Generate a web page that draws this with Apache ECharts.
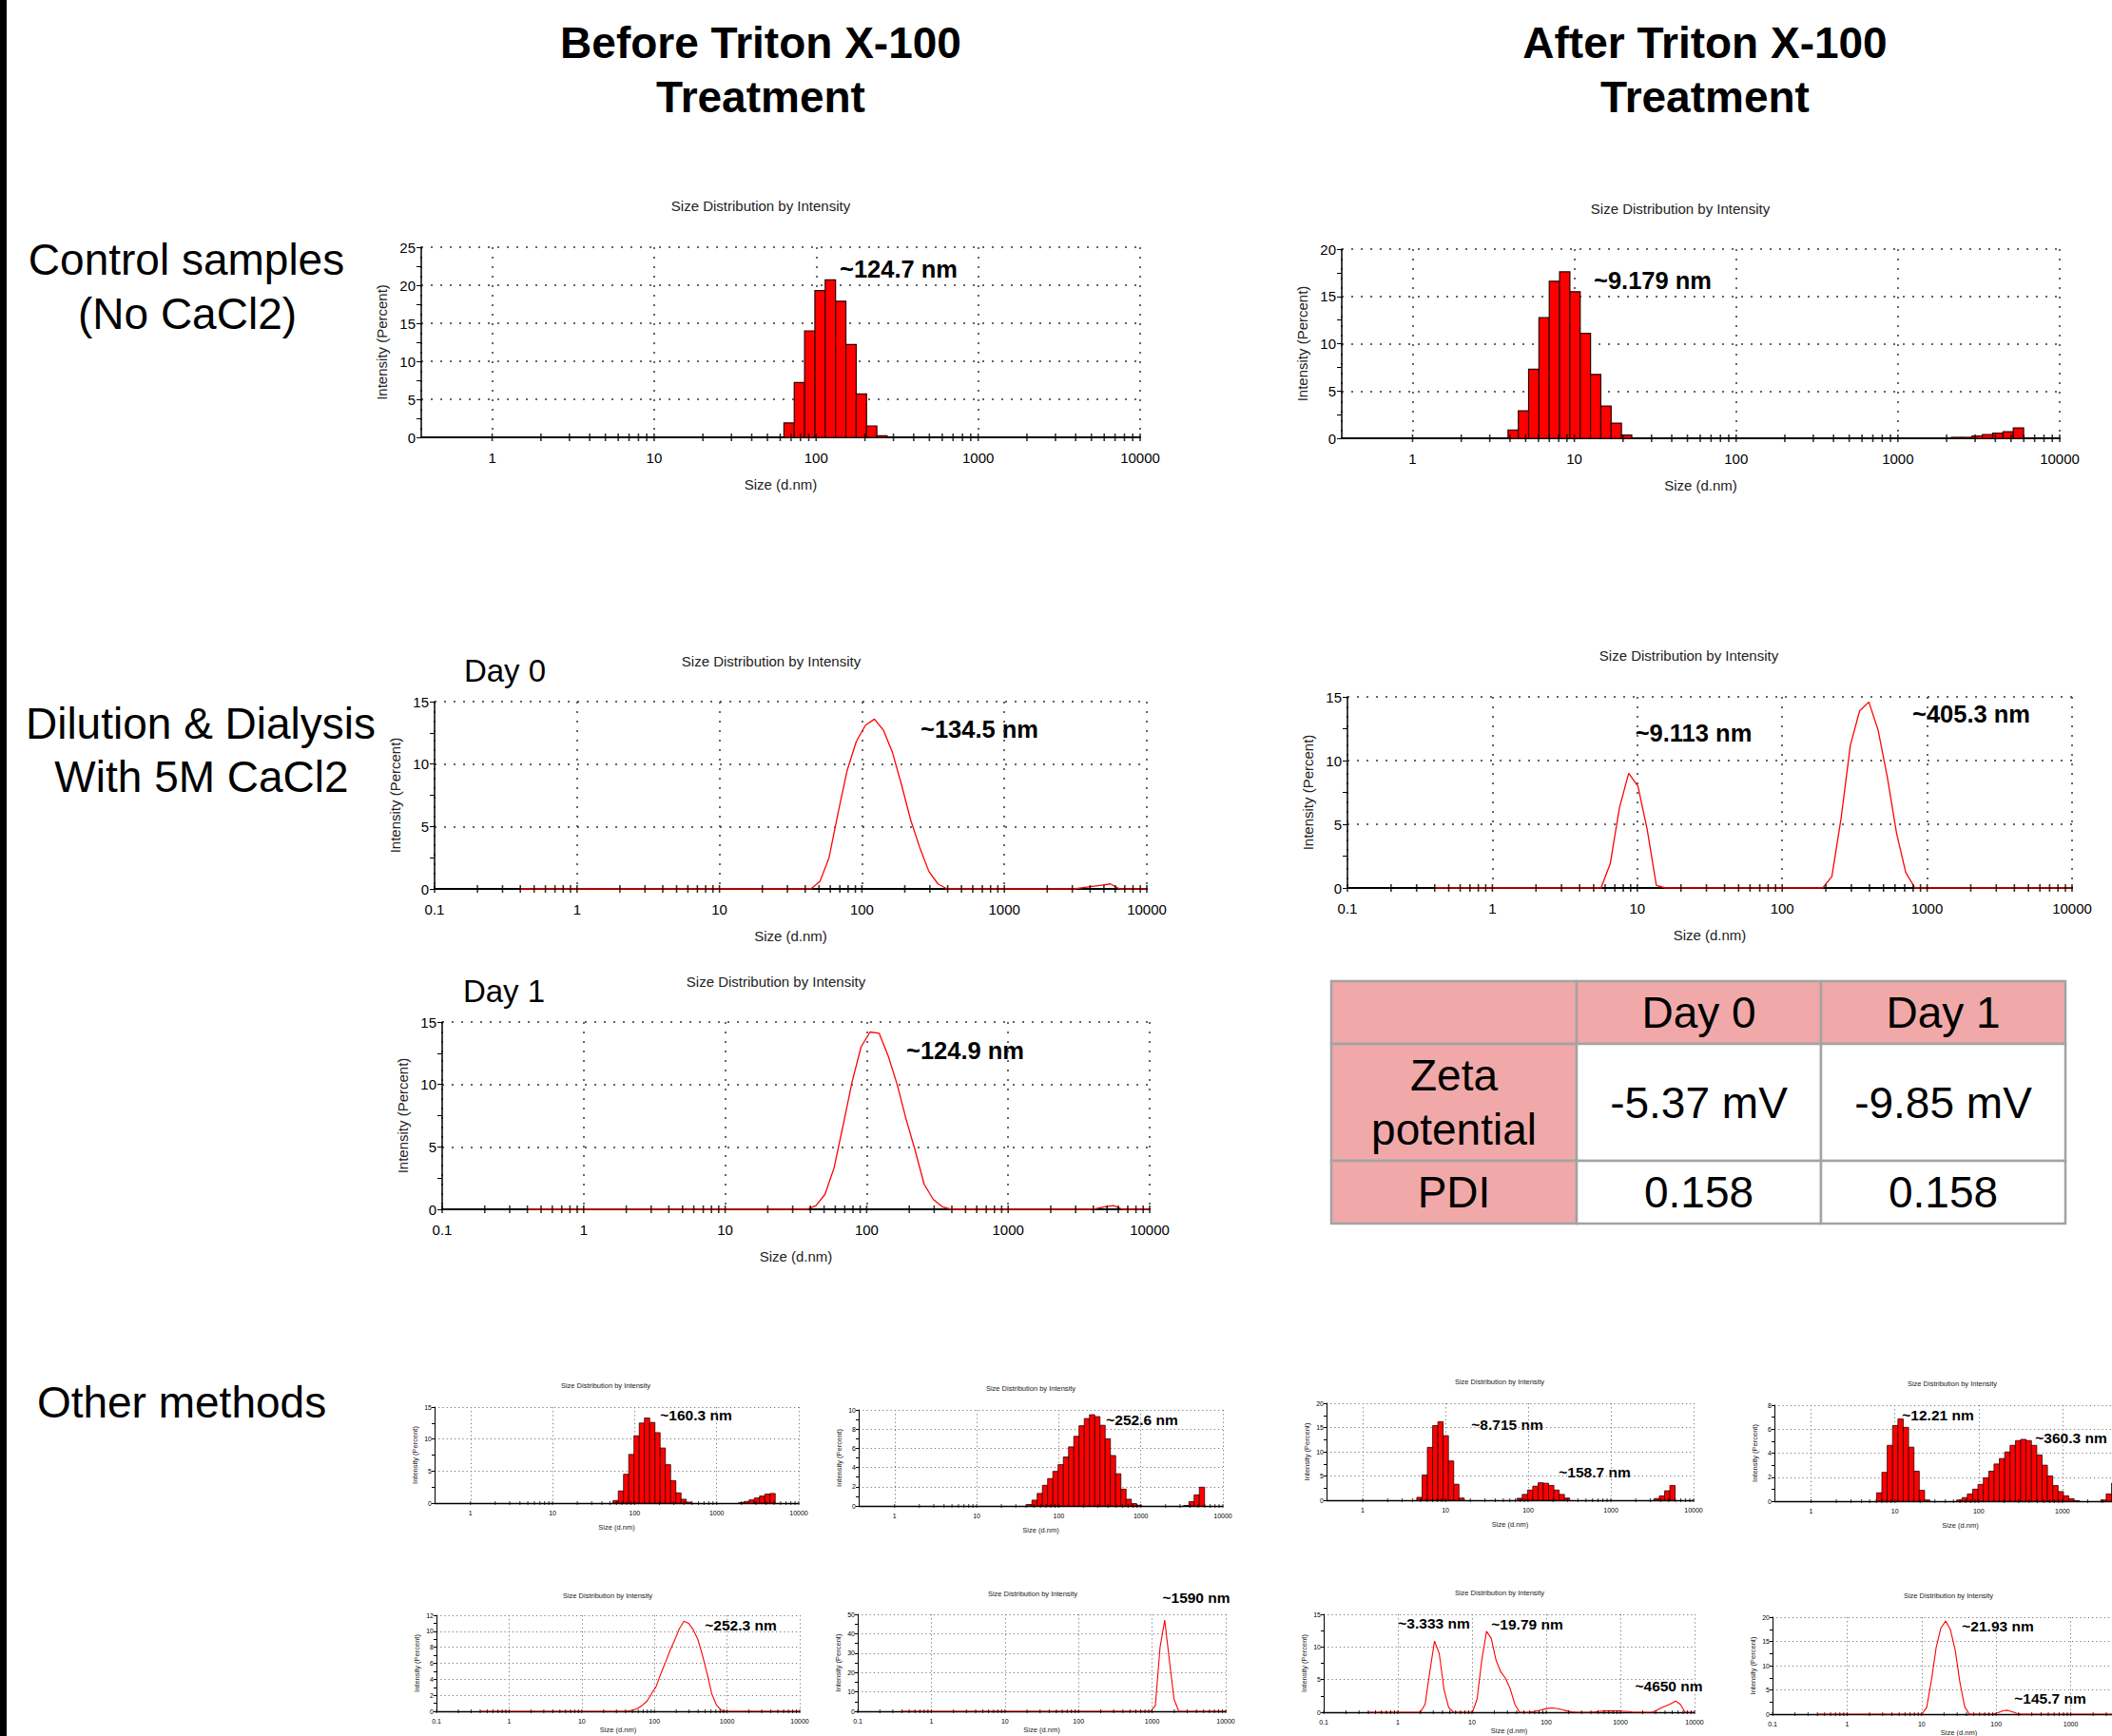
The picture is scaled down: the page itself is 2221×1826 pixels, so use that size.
<!DOCTYPE html>
<html>
<head>
<meta charset="utf-8">
<title>Size Distribution by Intensity</title>
<script src="https://cdn.jsdelivr.net/npm/echarts@6/dist/echarts.min.js"></script>
<style>
html,
body {
  margin: 0;
  padding: 0;
  background: #fff;
}
#chart_main {
  width: 2221px;
  height: 1826px;
}
</style>
</head>
<body>
<div id="chart_main"></div>
<script>
// size bins of the instrument (d.nm)
const sizes = [
  0.4, 0.4632, 0.5365, 0.6213, 0.7195, 0.8332, 0.9649, 1.117, 1.294, 1.499,
  1.736, 2.01, 2.328, 2.696, 3.122, 3.615, 4.187, 4.849, 5.615, 6.503,
  7.531, 8.721, 10.1, 11.7, 13.54, 15.69, 18.17, 21.04, 24.36, 28.21,
  32.67, 37.84, 43.82, 50.75, 58.77, 68.06, 78.82, 91.28, 105.7, 122.4,
  141.8, 164.2, 190.1, 220.2, 255, 295.3, 342, 396.1, 458.7, 531.2,
  615.1, 712.4, 825, 955.4, 1106, 1281, 1484, 1718, 1990, 2305,
  2669, 3091, 3580, 4145, 4801, 5560, 6439, 7456, 8635, 10000
];

// axis tick positions on the size axis
const tickSizes = [
  0.1, 0.2, 0.3, 0.4, 0.5, 0.6, 0.7, 0.8, 0.9,
  1, 2, 3, 4, 5, 6, 7, 8, 9,
  10, 20, 30, 40, 50, 60, 70, 80, 90,
  100, 200, 300, 400, 500, 600, 700, 800, 900,
  1000, 2000, 3000, 4000, 5000, 6000, 7000, 8000, 9000,
  10000
];

// intensity (%) per bin
const controlBefore = [
  0, 0, 0, 0, 0, 0, 0, 0, 0, 0,
  0, 0, 0, 0, 0, 0, 0, 0, 0, 0,
  0, 0, 0, 0, 0, 0, 0, 0, 0, 0,
  0, 0, 0, 0, 0, 1.9, 7.2, 14.0, 19.3, 20.7,
  17.9, 12.2, 5.7, 1.5, 0.2, 0, 0, 0, 0, 0,
  0, 0, 0, 0, 0, 0, 0, 0, 0, 0,
  0, 0, 0, 0, 0, 0, 0, 0, 0, 0
];
const controlAfter = [
  0, 0, 0, 0, 0, 0, 0, 0, 0, 0,
  0, 0, 0, 0, 0, 0, 0.87, 2.9, 7.3, 12.75,
  16.6, 17.6, 15.5, 11.1, 6.75, 3.4, 1.6, 0.33, 0, 0,
  0, 0, 0, 0, 0, 0, 0, 0, 0, 0,
  0, 0, 0, 0, 0, 0, 0, 0, 0, 0,
  0, 0, 0, 0, 0, 0, 0, 0, 0, 0.1,
  0.1, 0.25, 0.4, 0.55, 0.7, 1.1, 0, 0, 0, 0
];
const day0Before = [
  0, 0, 0, 0, 0, 0, 0, 0, 0, 0,
  0, 0, 0, 0, 0, 0, 0, 0, 0, 0,
  0, 0, 0, 0, 0, 0, 0, 0, 0, 0,
  0, 0, 0, 0.6, 2.5, 6.1, 9.5, 11.8, 13.1, 13.6,
  12.7, 10.9, 8.3, 5.5, 3.3, 1.4, 0.4, 0, 0, 0,
  0, 0, 0, 0, 0, 0, 0, 0, 0, 0,
  0, 0, 0.1, 0.2, 0.3, 0.4, 0, 0, 0, 0
];
const dialysisAfter = [
  0, 0, 0, 0, 0, 0, 0, 0, 0, 0,
  0, 0, 0, 0, 0, 0, 0, 0, 0, 1.9,
  6.3, 9.0, 8.0, 4.6, 0.2, 0, 0, 0, 0, 0,
  0, 0, 0, 0, 0, 0, 0, 0, 0, 0,
  0, 0, 0, 0.9, 5.5, 11.2, 13.9, 14.6, 12.4, 8.7,
  4.3, 1.2, 0, 0, 0, 0, 0, 0, 0, 0,
  0, 0, 0, 0, 0, 0, 0, 0, 0, 0
];
const day1Before = [
  0, 0, 0, 0, 0, 0, 0, 0, 0, 0,
  0, 0, 0, 0, 0, 0, 0, 0, 0, 0,
  0, 0, 0, 0, 0, 0, 0, 0, 0, 0,
  0, 0, 0.3, 1.2, 3.3, 6.7, 10.2, 13.0, 14.2, 14.1,
  12.3, 10.0, 7.2, 4.7, 2.0, 0.8, 0.2, 0, 0, 0,
  0, 0, 0, 0, 0, 0, 0, 0, 0, 0,
  0, 0, 0, 0.05, 0.2, 0.3, 0, 0, 0, 0
];
const otherBar1 = [
  0, 0, 0, 0, 0, 0, 0, 0, 0, 0,
  0, 0, 0, 0, 0, 0, 0, 0, 0, 0,
  0, 0, 0, 0, 0, 0, 0, 0, 0, 0,
  0, 0, 0, 0, 0.4, 1.9, 4.5, 7.6, 10.5, 12.5,
  13.3, 12.6, 11.0, 8.6, 6.0, 3.5, 1.6, 0.6, 0.15, 0,
  0, 0, 0, 0, 0, 0, 0, 0, 0.05, 0.25,
  0.5, 0.8, 1.1, 1.4, 1.5, 0, 0, 0, 0, 0
];
const otherBar2 = [
  0, 0, 0, 0, 0, 0, 0, 0, 0, 0,
  0, 0, 0, 0, 0, 0, 0, 0, 0, 0,
  0, 0, 0, 0, 0, 0, 0, 0, 0, 0,
  0, 0, 0.15, 0.6, 1.3, 2.15, 2.85, 3.6, 4.3, 5.1,
  6.15, 7.25, 8.35, 9.1, 9.5, 9.3, 8.4, 7.0, 5.25, 3.35,
  1.75, 0.7, 0.25, 0.07, 0, 0, 0, 0, 0, 0,
  0, 0, 0.05, 0.45, 1.15, 1.95, 0, 0, 0, 0
];
const otherBar3 = [
  0, 0, 0, 0, 0, 0, 0, 0, 0, 0,
  0, 0, 0, 0, 0, 0, 0, 0.6, 5.2, 10.9,
  15.4, 16.2, 13.3, 8.1, 3.3, 0.45, 0, 0, 0, 0,
  0, 0, 0, 0, 0, 0, 0.4, 1.2, 2.1, 2.9,
  3.6, 3.5, 3.05, 2.1, 1.2, 0.45, 0, 0, 0, 0,
  0, 0, 0, 0, 0, 0, 0, 0, 0, 0,
  0, 0, 0.35, 0.9, 1.95, 3.05, 0, 0, 0, 0
];
const otherBar4 = [
  0, 0, 0, 0, 0, 0, 0, 0, 0, 0,
  0, 0, 0, 0, 0, 0, 0, 0, 0, 0.7,
  2.4, 4.65, 6.3, 6.85, 6.15, 4.5, 2.5, 0.9, 0.1, 0,
  0, 0, 0, 0, 0.1, 0.3, 0.6, 1.0, 1.4, 1.95,
  2.5, 3.1, 3.55, 4.1, 4.65, 5.05, 5.15, 5.05, 4.65, 3.85,
  3.0, 2.1, 1.3, 0.8, 0.45, 0.2, 0.05, 0, 0, 0,
  0, 0.1, 0.6, 1.5, 0, 0, 0, 0, 0, 0
];
const otherLine1 = [
  0, 0, 0, 0, 0, 0, 0, 0, 0, 0,
  0, 0, 0, 0, 0, 0, 0, 0, 0, 0,
  0, 0, 0, 0, 0, 0, 0, 0, 0, 0,
  0, 0, 0.05, 0.15, 0.35, 0.75, 1.25, 2.2, 3.1, 4.7,
  6.1, 7.6, 8.9, 10.3, 11.25, 11.0, 10.2, 9.0, 7.0, 4.7,
  2.2, 0.8, 0.15, 0, 0, 0, 0, 0, 0, 0,
  0, 0, 0, 0, 0, 0, 0, 0, 0, 0
];
const otherLine2 = [
  0, 0, 0, 0, 0, 0, 0, 0, 0, 0,
  0, 0, 0, 0, 0, 0, 0, 0, 0, 0,
  0, 0, 0, 0, 0, 0, 0, 0, 0, 0,
  0, 0, 0, 0, 0, 0, 0, 0, 0, 0,
  0, 0, 0, 0, 0, 0, 0, 0, 0, 0,
  0, 0, 0, 0, 3, 33, 47, 26, 6, 0,
  0, 0, 0, 0, 0, 0, 0, 0, 0, 0
];
const otherLine3 = [
  0, 0, 0, 0, 0, 0, 0, 0, 0, 0,
  0, 0, 1.2, 6.2, 10.9, 9.0, 3.5, 0.7, 0, 0,
  0, 0, 0, 2.0, 8.0, 12.4, 11.3, 8.0, 6.2, 5.2,
  3.6, 1.2, 0, 0, 0, 0.1, 0.25, 0.45, 0.6, 0.65,
  0.55, 0.4, 0.2, 0.05, 0, 0, 0, 0, 0.05, 0.15,
  0.2, 0.2, 0.2, 0.2, 0.15, 0.1, 0, 0, 0, 0,
  0, 0.3, 0.7, 1.0, 1.3, 1.7, 1.2, 0, 0, 0
];
const otherLine4 = [
  0, 0, 0, 0, 0, 0, 0, 0, 0, 0,
  0, 0, 0, 0, 0, 0, 0, 0, 0, 0,
  0, 0, 0, 1.4, 7.0, 13.8, 17.8, 19.2, 17.4, 13.2,
  6.5, 1.5, 0, 0, 0, 0, 0, 0, 0.3, 0.7,
  0.8, 0.5, 0.15, 0, 0, 0, 0, 0, 0, 0,
  0, 0, 0, 0, 0, 0, 0, 0, 0, 0,
  0, 0, 0, 0, 0, 0, 0, 0, 0, 0
];

// table
const tableCols = ["Day 0", "Day 1"];
const tableRows = ["Zeta\npotential", "PDI"];
const zetaValues = ["-5.37 mV", "-9.85 mV"];
const pdiValues = ["0.158", "0.158"];

const FONT = "'Liberation Sans', Arial, Helvetica, sans-serif";
const HALF_BIN = 1.0762; // sqrt of the bin ratio, bars span one log bin

// one entry per small plot: box = [left, top, width, height]
const panels = [
  { values: controlBefore, kind: "bar", xMin: 0.365, yMax: 25, yStep: 5, box: [443, 260, 756, 200], title: [800, 216], peaks: [["~124.7 nm", 945, 283]] },
  { values: controlAfter, kind: "bar", xMin: 0.365, yMax: 20, yStep: 5, box: [1411, 262, 755, 199], title: [1767, 219], peaks: [["~9.179 nm", 1738, 295]] },
  { values: day0Before, kind: "line", xMin: 0.1, yMax: 15, yStep: 5, box: [457, 738, 749, 197], title: [811, 695], peaks: [["~134.5 nm", 1030, 767]] },
  { values: dialysisAfter, kind: "line", xMin: 0.1, yMax: 15, yStep: 5, box: [1417, 733, 762, 201], title: [1776, 689], peaks: [["~9.113 nm", 1781, 771], ["~405.3 nm", 2073, 751]] },
  { values: day1Before, kind: "line", xMin: 0.1, yMax: 15, yStep: 5, box: [465, 1075, 744, 197], title: [816, 1032], peaks: [["~124.9 nm", 1015, 1105]] },
  { values: otherBar1, kind: "bar", small: true, xMin: 0.365, yMax: 15, yStep: 5, box: [457, 1480, 383, 101], title: [637, 1457], peaks: [["~160.3 nm", 732, 1488]] },
  { values: otherBar2, kind: "bar", small: true, xMin: 0.365, yMax: 10, yStep: 2, box: [903, 1483, 383, 101], title: [1084, 1460], peaks: [["~252.6 nm", 1201, 1493]] },
  { values: otherBar3, kind: "bar", small: true, xMin: 0.365, yMax: 20, yStep: 5, box: [1395, 1476, 386, 102], title: [1577, 1453], peaks: [["~8.715 nm", 1585, 1498], ["~158.7 nm", 1677, 1548]] },
  { values: otherBar4, kind: "bar", small: true, cut: true, xMin: 0.365, yMax: 8, yStep: 2, box: [1866, 1478, 391, 101], title: [2053, 1455], peaks: [["~12.21 nm", 2038, 1488], ["~360.3 nm", 2178, 1512]] },
  { values: otherLine1, kind: "line", small: true, low: true, xMin: 0.1, yMax: 12, yStep: 2, box: [459, 1699, 382, 101], title: [639, 1678], peaks: [["~252.3 nm", 779, 1709]] },
  { values: otherLine2, kind: "line", small: true, low: true, xMin: 0.1, yMax: 50, yStep: 10, box: [902, 1698, 387, 102], title: [1086, 1676], peaks: [["~1590 nm", 1258, 1680]] },
  { values: otherLine3, kind: "line", small: true, low: true, xMin: 0.1, yMax: 15, yStep: 5, box: [1392, 1698, 390, 103], title: [1577, 1675], peaks: [["~3.333 nm", 1508, 1707], ["~19.79 nm", 1606, 1708], ["~4650 nm", 1755, 1773]] },
  { values: otherLine4, kind: "line", small: true, low: true, cut: true, xMin: 0.1, yMax: 20, yStep: 5, box: [1864, 1701, 392, 102], title: [2049, 1678], peaks: [["~21.93 nm", 2101, 1710], ["~145.7 nm", 2156, 1786]] }
];

function decadeLabel(v) {
  let e = Math.log10(v);
  let r = Math.round(e);
  if (Math.abs(e - r) > 1e-6) return "";
  return r < 0 ? Math.pow(10, r).toFixed(-r) : String(Math.pow(10, r));
}

function binRenderer(lw) {
  return function(params, api) {
    let s = api.value(0);
    let v = api.value(1);
    let a = api.coord([s / HALF_BIN, 0]);
    let b = api.coord([s * HALF_BIN, v]);
    return {
      type: "rect",
      shape: { x: a[0], y: b[1], width: b[0] - a[0], height: a[1] - b[1] },
      style: { fill: "#ff0000", stroke: "#2a0000", lineWidth: lw }
    };
  };
}

function text(str, x, y, size, weight, color) {
  return {
    type: "text",
    x: x,
    y: y,
    silent: true,
    style: {
      text: str,
      fill: color || "#000",
      fontSize: size,
      fontWeight: weight || "normal",
      fontFamily: FONT,
      align: "center",
      verticalAlign: "middle"
    }
  };
}

let grids = [];
let xAxes = [];
let yAxes = [];
let series = [];
let graphics = [];

// black edge on the left of the slide
graphics.push({ type: "rect", shape: { x: 0, y: 0, width: 7, height: 1826 }, style: { fill: "#000" }, silent: true });

panels.forEach((p, i) => {
  let big = !p.small;
  let dots = big ? [2, 8] : [1.2, 3];
  let dotColor = big ? "#333" : "#777";
  grids.push({
    left: p.box[0],
    top: p.box[1],
    width: p.box[2],
    height: p.box[3],
    containLabel: false,
    outerBoundsMode: "none"
  });
  xAxes.push({
    type: "log",
    logBase: 10,
    gridIndex: i,
    min: p.xMin,
    max: 10000,
    name: "Size (d.nm)",
    nameLocation: "middle",
    // bottom row sits on the page edge, keep its axis name inside
    nameGap: big ? 42 : p.low ? 15 : 21,
    nameMoveOverlap: false,
    nameTextStyle: { color: "#222", fontSize: big ? 15 : 7.5, fontFamily: FONT },
    axisLine: { show: true, onZero: false, lineStyle: { color: "#000", width: big ? 2 : 1.3 } },
    axisTick: { show: false },
    axisLabel: {
      // plots running past the right page edge lose their last label
      formatter: v => (p.cut && v >= 10000 ? "" : decadeLabel(v)),
      color: "#000",
      fontSize: big ? 15 : 7,
      fontFamily: FONT,
      margin: big ? 14 : 7
    },
    splitLine: { show: true, lineStyle: { type: dots, color: dotColor, width: big ? 1.5 : 1 } }
  });
  yAxes.push({
    type: "value",
    gridIndex: i,
    min: 0,
    max: p.yMax,
    interval: p.yStep,
    name: "Intensity (Percent)",
    nameLocation: "middle",
    nameGap: big ? 34 : 17,
    nameMoveOverlap: false,
    nameTextStyle: { color: "#222", fontSize: big ? 15 : 7.5, fontFamily: FONT },
    axisLine: { show: true, lineStyle: { color: "#000", width: big ? 1.5 : 1 } },
    axisTick: { show: true, length: big ? 5 : 3, lineStyle: { color: "#000" } },
    minorTick: { show: true, splitNumber: 2, length: big ? 5 : 3, lineStyle: { color: "#000" } },
    axisLabel: { color: "#000", fontSize: big ? 15 : 7, fontFamily: FONT, margin: big ? 6 : 3 },
    splitLine: { show: true, lineStyle: { type: dots, color: dotColor, width: big ? 1.5 : 1 } }
  });

  let pts = sizes.map((s, k) => [s, p.values[k]]);
  if (p.kind === "bar") {
    series.push({
      type: "custom",
      xAxisIndex: i,
      yAxisIndex: i,
      data: pts.filter(d => d[1] > 0),
      renderItem: binRenderer(big ? 1.2 : 0.8),
      silent: true,
      z: 2
    });
  } else {
    series.push({
      type: "line",
      xAxisIndex: i,
      yAxisIndex: i,
      data: pts,
      showSymbol: false,
      smooth: false,
      silent: true,
      lineStyle: { color: "#ff0000", width: big ? 1.3 : 1.1 },
      z: 2
    });
  }
  // tick marks on the size axis
  series.push({
    type: "scatter",
    xAxisIndex: i,
    yAxisIndex: i,
    data: tickSizes.filter(t => t >= (p.kind === "bar" ? 1 : 0.1)).map(t => [t, 0]),
    symbol: "rect",
    symbolSize: big ? [1.6, 8] : [1, 4],
    itemStyle: { color: "#000" },
    silent: true,
    z: 4
  });

  graphics.push(text("Size Distribution by Intensity", p.title[0], p.title[1], big ? 15 : 7.5, "normal", "#222"));
  p.peaks.forEach(pk => {
    graphics.push(text(pk[0], pk[1], pk[2], big ? 25.5 : 15.5, "bold"));
  });
});

// headings
graphics.push(text("Before Triton X-100", 800, 45, 46, "bold"));
graphics.push(text("Treatment", 800, 102, 46, "bold"));
graphics.push(text("After Triton X-100", 1793, 45, 46, "bold"));
graphics.push(text("Treatment", 1793, 102, 46, "bold"));
graphics.push(text("Control samples", 196, 273, 46));
graphics.push(text("(No CaCl2)", 197, 330, 46));
graphics.push(text("Dilution & Dialysis", 211, 761, 46));
graphics.push(text("With 5M CaCl2", 212, 817, 46));
graphics.push(text("Other methods", 191, 1475, 46));
graphics.push(text("Day 0", 531, 705, 33));
graphics.push(text("Day 1", 530, 1042, 33));

// zeta / PDI table
let colX = [1400, 1658, 1915, 2172];
let rowY = [1032, 1098, 1221, 1287];
for (let r = 0; r < 3; r++) {
  for (let c = 0; c < 3; c++) {
    graphics.push({
      type: "rect",
      silent: true,
      shape: { x: colX[c], y: rowY[r], width: colX[c + 1] - colX[c], height: rowY[r + 1] - rowY[r] },
      style: { fill: r === 0 || c === 0 ? "#f0a9a8" : "#fff", stroke: "#a3a3a3", lineWidth: 2.5 }
    });
  }
}
let cellX = c => (colX[c] + colX[c + 1]) / 2;
let cellY = r => (rowY[r] + rowY[r + 1]) / 2;
tableCols.forEach((t, c) => graphics.push(text(t, cellX(c + 1), cellY(0), 46)));
tableRows.forEach((t, r) => {
  let el = text(t, cellX(0), cellY(r + 1), 46);
  el.style.lineHeight = 57;
  graphics.push(el);
});
zetaValues.forEach((t, c) => graphics.push(text(t, cellX(c + 1), cellY(1), 46)));
pdiValues.forEach((t, c) => graphics.push(text(t, cellX(c + 1), cellY(2), 46)));

let option = {
  animation: false,
  backgroundColor: "#fff",
  grid: grids,
  xAxis: xAxes,
  yAxis: yAxes,
  series: series,
  graphic: graphics
};

let myChart = echarts.init(document.getElementById("chart_main"), null, { renderer: "svg" });
myChart.setOption(option);
window.addEventListener("resize", function() {
  myChart.resize();
});
</script>
</body>
</html>
